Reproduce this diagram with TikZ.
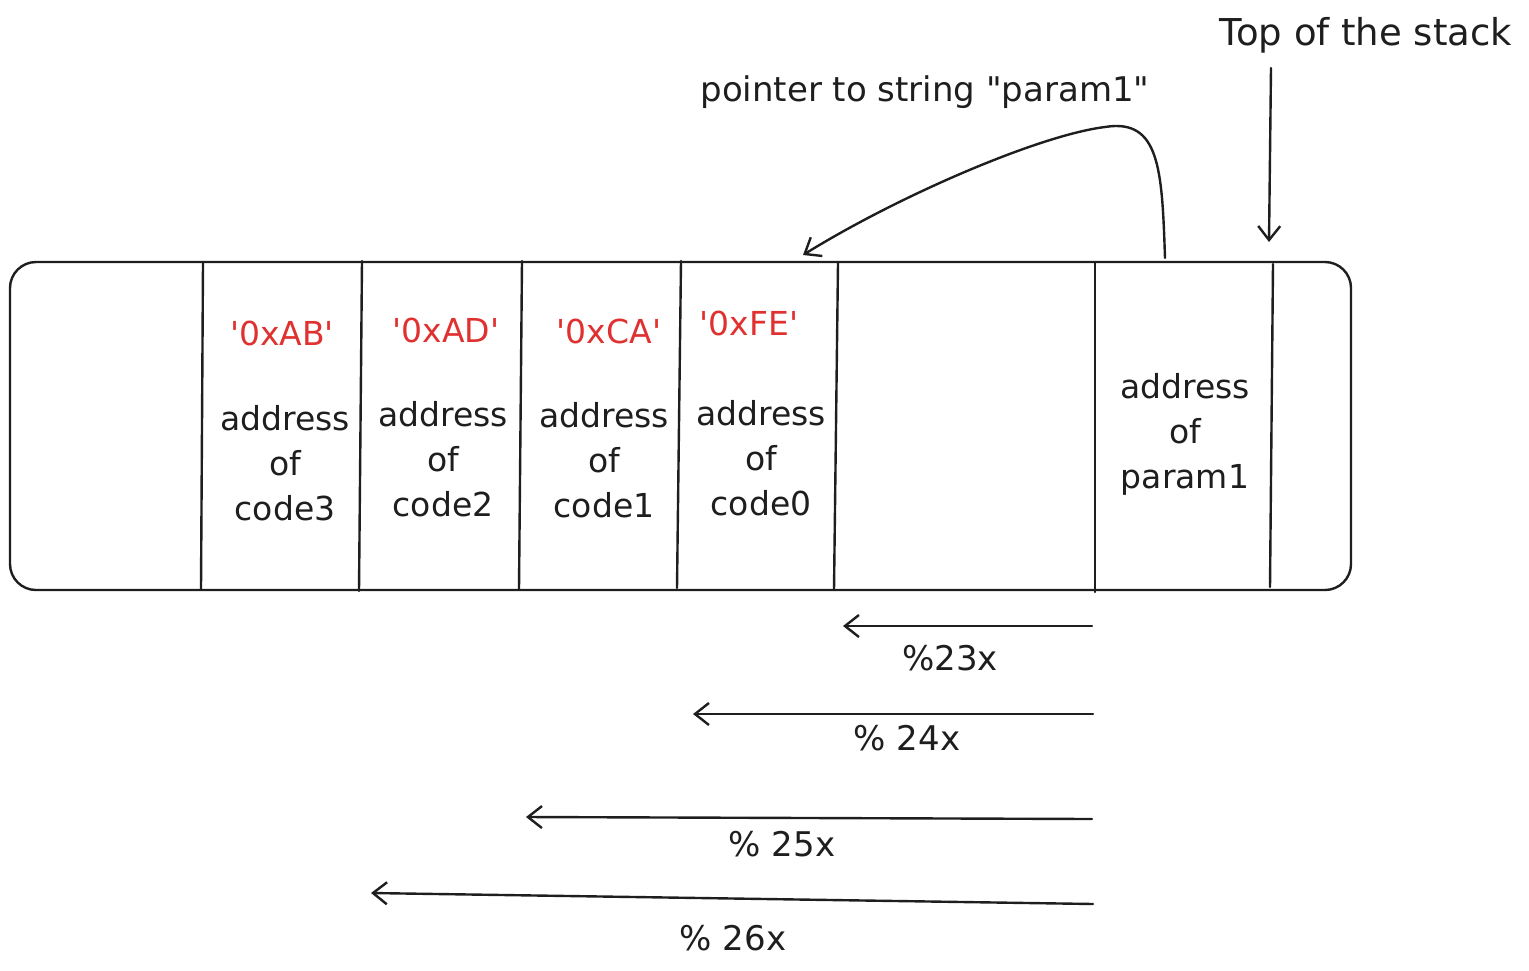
\documentclass[tikz,border=0pt]{standalone}
\usepackage{fontspec}
\setmainfont{DejaVu Sans}[Ligatures=TeXOff]
\usetikzlibrary{arrows.meta}
\definecolor{exred}{HTML}{E03131}
\definecolor{exink}{HTML}{1E1E1E}
\tikzset{
  ink/.style={draw=exink, line width=2.4pt, line cap=round, line join=round},
  arr/.style={ink, -{Straight Barb[length=14pt,width=22pt,line width=2.4pt]}},
  lbl/.style={text=exink, inner sep=0pt, font=\fontsize{34}{45}\selectfont},
  cell/.style={text=exink, inner sep=0pt, align=center, font=\fontsize{33}{45}\selectfont},
  hexlbl/.style={text=exred, inner sep=0pt, font=\fontsize{33}{40}\selectfont}
}
\begin{document}
\begin{tikzpicture}[x=1pt,y=-1pt]
\useasboundingbox (0,0) rectangle (1529,970);

% stack box
\draw[ink, rounded corners=26pt] (10,262) rectangle (1351,590);
% dividers
\draw[ink] (203,263) -- (201,589);
\draw[ink] (362,261) -- (359,591);
\draw[ink] (522,261) -- (519,589);
\draw[ink] (681,261) -- (677,588);
\draw[ink] (838,263) -- (834,590);
\draw[ink] (1095,263) -- (1095,592);
\draw[ink] (1273,264) -- (1270,587);

% hex labels
\node[hexlbl] (hab) at (282,333) {'0xAB'};
\node[hexlbl] (had) at (446,330) {'0xAD'};
\node[hexlbl] (hca) at (609,331) {'0xCA'};
\node[hexlbl] (hfe) at (749,323) {'0xFE'};

% cell texts
\node[cell] (c3) at (285,463) {address\\of\\code3};
\node[cell] (c2) at (443,459) {address\\of\\code2};
\node[cell] (c1) at (604,460) {address\\of\\code1};
\node[cell] (c0) at (761,458) {address\\of\\code0};
\node[cell] (cp) at (1185,434) {address\\of\\param1};

% top labels
\node[lbl, font=\fontsize{37}{45}\selectfont] (toplbl) at (1366,35) {Top of the stack};
\node[lbl] (ptrlbl) at (925,92) {pointer to string "param1"};

% top of stack arrow
\coordinate (topA) at (1271,68);
\coordinate (topB) at (1269,242);
\draw[arr] (topA) -- (topB);

% pointer arrow
\coordinate (ptrA) at (1165,258);
\coordinate (ptrB) at (803,255);
\draw[arr] (ptrA) .. controls (1162,170) and (1160,118) .. (1105,127)
  .. controls (1040,135) and (900,195) .. (ptrB);

% format arrows
\coordinate (a1s) at (1092,626); \coordinate (a1e) at (843,626);
\coordinate (a2s) at (1093,714); \coordinate (a2e) at (693,714);
\coordinate (a3s) at (1092,819); \coordinate (a3e) at (526,817);
\coordinate (a4s) at (1093,904); \coordinate (a4e) at (371,893);
\draw[arr] (a1s) -- (a1e);
\draw[arr] (a2s) -- (a2e);
\draw[arr] (a3s) -- (a3e);
\draw[arr] (a4s) -- (a4e);

\node[lbl] (f23) at (950,658) {\%23x};
\node[lbl] (f24) at (907,738) {\% 24x};
\node[lbl] (f25) at (782,844) {\% 25x};
\node[lbl] (f26) at (733,938) {\% 26x};
\end{tikzpicture}
\end{document}
